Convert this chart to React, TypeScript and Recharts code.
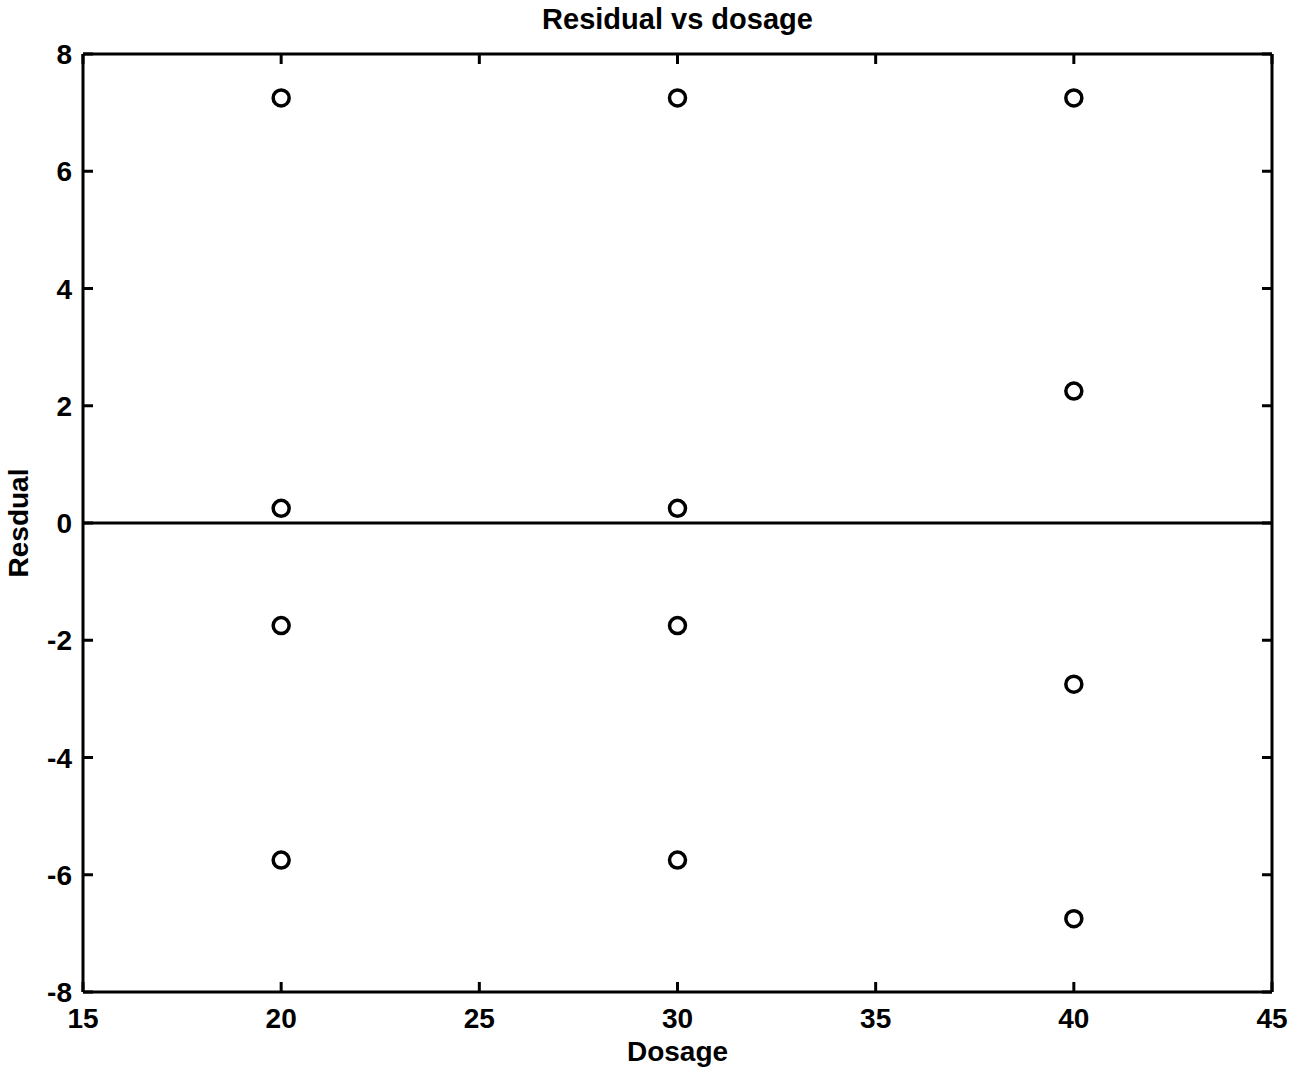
import { ScatterChart, Scatter, XAxis, YAxis, ReferenceLine } from "recharts"

// residuals, grouped by dosage level
const dosages = [20, 20, 20, 20, 30, 30, 30, 30, 40, 40, 40, 40]
const residuals = [7.25, 0.25, -1.75, -5.75, 7.25, 0.25, -1.75, -5.75, 7.25, 2.25, -2.75, -6.75]

const xTicks = [15, 20, 25, 30, 35, 40, 45]
const yTicks = [-8, -6, -4, -2, 0, 2, 4, 6, 8]

const points = dosages.map((d, i) => ({ dosage: d, residual: residuals[i] }))

const font = "'Liberation Sans', Arial, Helvetica, sans-serif"
const axisLine = { stroke: "#000", strokeWidth: 3 }
const TICK = 10

// ticks point into the plot, like the original figure
const BottomTick = (props: any) => {
  const { x, y, payload } = props
  return (
    <g>
      <line x1={x} y1={y} x2={x} y2={y - TICK} stroke="#000" strokeWidth={3} />
      <text x={x} y={y + 36} textAnchor="middle" fontSize={28} fontWeight="bold" fontFamily={font} fill="#000">
        {payload.value}
      </text>
    </g>
  )
}

const TopTick = (props: any) => {
  const { x, y } = props
  return <line x1={x} y1={y} x2={x} y2={y + TICK} stroke="#000" strokeWidth={3} />
}

const LeftTick = (props: any) => {
  const { x, y, payload } = props
  return (
    <g>
      <line x1={x} y1={y} x2={x + TICK} y2={y} stroke="#000" strokeWidth={3} />
      <text x={x - 11} y={y + 10} textAnchor="end" fontSize={28} fontWeight="bold" fontFamily={font} fill="#000">
        {payload.value}
      </text>
    </g>
  )
}

const RightTick = (props: any) => {
  const { x, y } = props
  return <line x1={x} y1={y} x2={x - TICK} y2={y} stroke="#000" strokeWidth={3} />
}

const Ring = (props: any) => (
  <circle cx={props.cx} cy={props.cy} r={8} fill="none" stroke="#000" strokeWidth={3.5} />
)

const XLabel = (props: any) => {
  const { x, width } = props.viewBox
  return (
    <text x={x + width / 2} y={1061} textAnchor="middle" fontSize={28} fontWeight="bold" fontFamily={font} fill="#000">
      Dosage
    </text>
  )
}

const YLabel = (props: any) => {
  const { y, height } = props.viewBox
  const cy = y + height / 2
  return (
    <text
      x={28}
      y={cy}
      transform={`rotate(-90, 28, ${cy})`}
      textAnchor="middle"
      fontSize={28}
      fontWeight="bold"
      fontFamily={font}
      fill="#000"
    >
      Resdual
    </text>
  )
}

export default function App() {
  return (
    <div style={{ position: "absolute", left: 0, top: 0, width: 1307, height: 1077, background: "#fff" }}>
      <div
        style={{
          position: "absolute",
          left: 83,
          width: 1189,
          top: 5,
          textAlign: "center",
          fontFamily: font,
          fontWeight: "bold",
          fontSize: 29,
          lineHeight: "29px",
        }}
      >
        Residual vs dosage
      </div>
      <ScatterChart width={1307} height={1077} margin={{ top: 53, right: 34, bottom: 35, left: 0 }}>
        <XAxis
          type="number"
          dataKey="dosage"
          domain={[15, 45]}
          ticks={xTicks}
          height={50}
          tickSize={0}
          tickMargin={0}
          tick={<BottomTick />}
          tickLine={false}
          axisLine={axisLine}
          label={<XLabel />}
        />
        <XAxis
          xAxisId="top"
          orientation="top"
          type="number"
          dataKey="dosage"
          domain={[15, 45]}
          ticks={xTicks}
          height={1}
          tickSize={0}
          tickMargin={0}
          tick={<TopTick />}
          tickLine={false}
          axisLine={axisLine}
        />
        <YAxis
          type="number"
          dataKey="residual"
          domain={[-8, 8]}
          ticks={yTicks}
          width={83}
          tickSize={0}
          tickMargin={0}
          tick={<LeftTick />}
          tickLine={false}
          axisLine={axisLine}
          label={<YLabel />}
        />
        <YAxis
          yAxisId="right"
          orientation="right"
          type="number"
          dataKey="residual"
          domain={[-8, 8]}
          ticks={yTicks}
          width={1}
          tickSize={0}
          tickMargin={0}
          tick={<RightTick />}
          tickLine={false}
          axisLine={axisLine}
        />
        <ReferenceLine y={0} stroke="#000" strokeWidth={3} />
        <Scatter data={points} shape={<Ring />} isAnimationActive={false} />
        {/* invisible copy so the top / right frame axes get their ticks */}
        <Scatter data={points} xAxisId="top" yAxisId="right" shape={() => null} isAnimationActive={false} />
      </ScatterChart>
    </div>
  )
}
